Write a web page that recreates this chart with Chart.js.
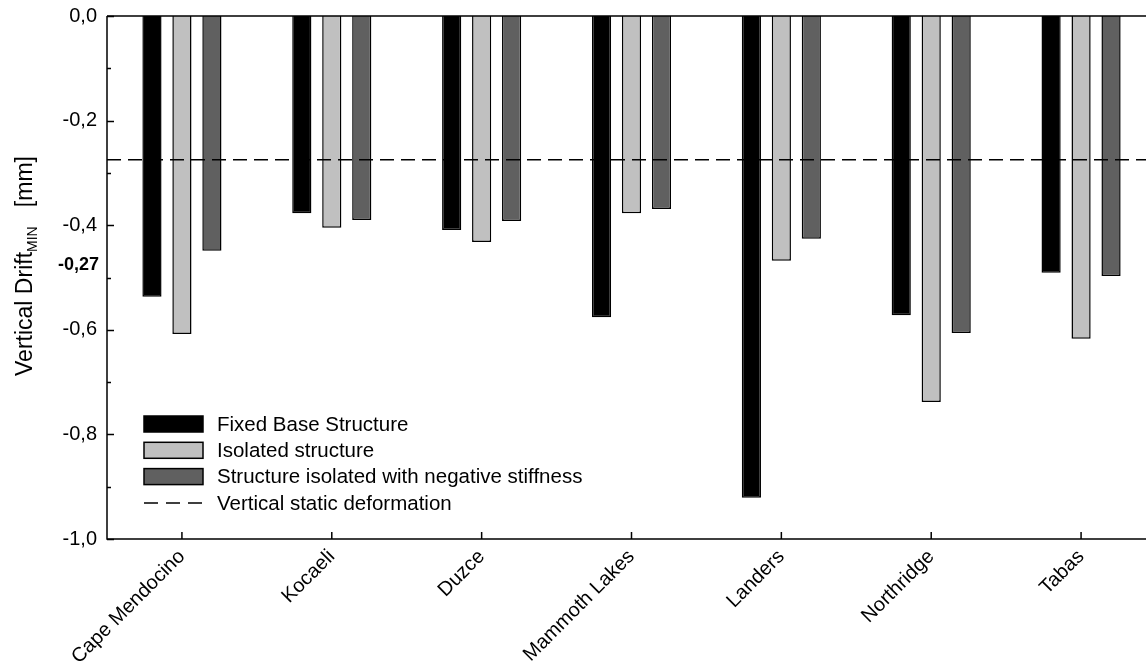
<!DOCTYPE html>
<html>
<head>
<meta charset="utf-8">
<script src="https://cdn.jsdelivr.net/npm/chart.js@4"></script>
<style>
  html, body { margin: 0; padding: 0; background: #fff; overflow: hidden; }
  #wrap { width: 1160px; height: 669px; position: relative; }
</style>
</head>
<body>
<div id="wrap"><canvas id="driftChart"></canvas></div>
<script>
// earthquakes on the x axis
const categories = ['Cape Mendocino', 'Kocaeli', 'Duzce', 'Mammoth Lakes', 'Landers', 'Northridge', 'Tabas'];
// minimum vertical drift, mm
const fixedBase = [-0.537, -0.377, -0.409, -0.576, -0.921, -0.572, -0.491];
const isolated = [-0.608, -0.405, -0.432, -0.377, -0.468, -0.738, -0.617];
const negStiffness = [-0.449, -0.390, -0.392, -0.369, -0.426, -0.606, -0.497];
const seriesNames = ['Fixed Base Structure', 'Isolated structure', 'Structure isolated with negative stiffness'];
const staticName = 'Vertical static deformation';
const staticDeformation = -0.275;
const staticLabel = '-0,27';
const staticLabelAt = -0.476;
const yMin = -1.0, yMax = 0.0, yStep = 0.1;

const FONT = '"Liberation Sans", Arial, sans-serif';

function fmt(v) {
  return v.toFixed(1).replace('.', ',');
}
function isMajor(v) {
  return Math.round(Math.abs(v) * 10) % 2 === 0;
}

// axes frame, inward ticks, dashed static line, legend, y title
const decorations = {
  id: 'decorations',
  afterDatasetsDraw(chart) {
    const ctx = chart.ctx;
    const a = chart.chartArea;
    const x = chart.scales.x, y = chart.scales.y;
    ctx.save();
    ctx.strokeStyle = '#000';
    ctx.lineWidth = 1.5;

    // frame
    ctx.beginPath();
    ctx.moveTo(a.left, a.top); ctx.lineTo(a.right, a.top);
    ctx.moveTo(a.left, a.top); ctx.lineTo(a.left, a.bottom);
    ctx.lineTo(a.right, a.bottom); ctx.lineTo(a.right, a.top);
    ctx.stroke();

    // y ticks, both sides, pointing in
    ctx.beginPath();
    for (let i = 0; i <= Math.round((yMax - yMin) / yStep); i++) {
      const v = yMin + i * yStep;
      const py = Math.round(y.getPixelForValue(v)) + 0.5;
      const len = isMajor(v) ? 7 : 4;
      ctx.moveTo(a.left, py); ctx.lineTo(a.left + len, py);
      ctx.moveTo(a.right, py); ctx.lineTo(a.right - len, py);
    }
    // x ticks pointing up
    categories.forEach((c, i) => {
      const px = x.getPixelForValue(i);
      ctx.moveTo(px, a.bottom); ctx.lineTo(px, a.bottom - 7);
    });
    ctx.stroke();

    // static deformation line
    const sy = y.getPixelForValue(staticDeformation);
    ctx.setLineDash([14, 7]);
    ctx.beginPath();
    ctx.moveTo(a.left, sy); ctx.lineTo(a.right, sy);
    ctx.stroke();
    ctx.setLineDash([]);

    // bold label on the left
    ctx.fillStyle = '#000';
    ctx.font = 'bold 18px ' + FONT;
    ctx.textAlign = 'right';
    ctx.textBaseline = 'middle';
    ctx.fillText(staticLabel, a.left - 8, y.getPixelForValue(staticLabelAt));

    // legend
    const lx = a.left + 37, boxW = 59, boxH = 16;
    let ly = 424;
    ctx.font = '20.5px ' + FONT;
    ctx.textAlign = 'left';
    chart.data.datasets.forEach(ds => {
      ctx.fillStyle = ds.backgroundColor;
      ctx.fillRect(lx, ly - boxH / 2, boxW, boxH);
      ctx.lineWidth = 1.5;
      ctx.strokeStyle = '#000';
      ctx.strokeRect(lx, ly - boxH / 2, boxW, boxH);
      ctx.fillStyle = '#000';
      ctx.fillText(ds.label, lx + 73, ly + 1);
      ly += 26.3;
    });
    ctx.setLineDash([14, 8]);
    ctx.beginPath();
    ctx.moveTo(lx, ly); ctx.lineTo(lx + boxW, ly);
    ctx.stroke();
    ctx.setLineDash([]);
    ctx.fillText(staticName, lx + 73, ly + 1);

    // y axis title with subscript
    ctx.translate(32, 266);
    ctx.rotate(-Math.PI / 2);
    ctx.textBaseline = 'alphabetic';
    const big = '23px ' + FONT, small = '14px ' + FONT;
    const p1 = 'Vertical Drift', p2 = 'MIN', p3 = '   [mm]';
    ctx.font = big; const w1 = ctx.measureText(p1).width, w3 = ctx.measureText(p3).width;
    ctx.font = small; const w2 = ctx.measureText(p2).width;
    let tx = -(w1 + w2 + w3) / 2;
    ctx.font = big; ctx.fillText(p1, tx, 0); tx += w1;
    ctx.font = small; ctx.fillText(p2, tx, 5); tx += w2;
    ctx.font = big; ctx.fillText(p3, tx, 0);

    ctx.restore();
  }
};

const ctx = document.getElementById('driftChart');
new Chart(ctx, {
  type: 'bar',
  data: {
    labels: categories,
    datasets: [
      { label: seriesNames[0], data: fixedBase, backgroundColor: '#000000', borderColor: '#000', borderWidth: 1.5 },
      { label: seriesNames[1], data: isolated, backgroundColor: '#c0c0c0', borderColor: '#000', borderWidth: 1.5 },
      { label: seriesNames[2], data: negStiffness, backgroundColor: '#606060', borderColor: '#000', borderWidth: 1.5 }
    ]
  },
  options: {
    responsive: true,
    maintainAspectRatio: false,
    animation: false,
    layout: { padding: { top: 16, right: 4, left: 0, bottom: 0 } },
    datasets: { bar: { categoryPercentage: 0.6, barPercentage: 0.64, borderSkipped: 'start' } },
    plugins: {
      legend: { display: false },
      tooltip: { enabled: false }
    },
    scales: {
      x: {
        grid: { display: false, drawTicks: false },
        border: { display: false },
        ticks: {
          color: '#000',
          font: { family: FONT, size: 20 },
          maxRotation: 45, minRotation: 45,
          padding: 6,
          autoSkip: false
        },
        afterFit(scale) { scale.height = 130; }
      },
      y: {
        min: yMin, max: yMax,
        grid: { display: false, drawTicks: false },
        border: { display: false },
        ticks: {
          stepSize: yStep,
          autoSkip: false,
          color: '#000',
          font: { family: FONT, size: 20 },
          padding: 10,
          callback: (v) => isMajor(v) ? fmt(v) : ''
        },
        afterFit(scale) {
          scale.width = 107;
          scale.paddingTop = 0;
          scale.paddingBottom = 0;
        }
      }
    }
  },
  plugins: [decorations]
});
</script>
</body>
</html>
